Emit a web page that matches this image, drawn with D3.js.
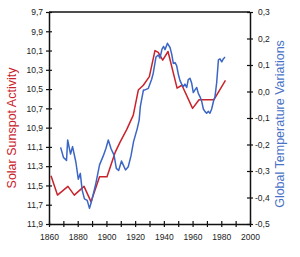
<!DOCTYPE html>
<html>
<head>
<meta charset="utf-8">
<script src="https://cdn.jsdelivr.net/npm/d3@7"></script>
<style>
  body { margin: 0; background: #fff; }
  svg { display: block; font-family: "Liberation Sans", Arial, sans-serif; }
</style>
</head>
<body>
<svg id="chart" width="300" height="257"></svg>
<script>
// solar cycle length (left, inverted) vs global temperature (right)

var sunYears = [1861.4, 1865.9, 1873.2, 1877.6, 1884.4, 1889.3, 1895.2, 1900.4, 1906.0, 1909.5,
    1914.1, 1918.7, 1922.2, 1925.7, 1929.9, 1933.8, 1936.1, 1939.2, 1942.9, 1949.2,
    1952.6, 1960.0, 1964.5, 1974.9, 1982.9];
var sunValues = [11.40, 11.60, 11.51, 11.60, 11.51, 11.67, 11.41, 11.41, 11.16, 11.05,
    10.92, 10.77, 10.51, 10.46, 10.37, 10.10, 10.12, 10.20, 10.11, 10.49,
    10.46, 10.70, 10.61, 10.61, 10.41];

var tempYears = [1868.1, 1870.1, 1872.2, 1873.0, 1875.0, 1876.4, 1878.7, 1880.4, 1881.8, 1883.1,
    1884.7, 1886.6, 1888.2, 1889.3, 1892.4, 1895.2, 1897.8, 1899.7, 1901.3, 1903.3,
    1905.3, 1906.9, 1908.5, 1910.5, 1911.7, 1913.3, 1915.2, 1917.1, 1918.9, 1921.5,
    1922.8, 1923.6, 1924.6, 1925.8, 1926.9, 1929.2, 1931.5, 1932.6, 1934.5, 1936.1,
    1937.3, 1938.7, 1939.8, 1940.8, 1942.5, 1944.3, 1945.5, 1946.6, 1947.8, 1948.9,
    1950.2, 1951.2, 1952.4, 1953.5, 1954.7, 1955.9, 1957.0, 1958.2, 1959.4, 1960.5,
    1961.7, 1962.9, 1964.0, 1965.2, 1966.4, 1967.5, 1968.7, 1969.8, 1971.0, 1972.1,
    1973.3, 1974.6, 1975.6, 1976.8, 1978.0, 1979.1, 1980.3, 1981.4, 1982.6];
var tempValues = [-0.211, -0.249, -0.260, -0.183, -0.236, -0.208, -0.266, -0.331, -0.309, -0.372,
    -0.405, -0.411, -0.441, -0.421, -0.353, -0.277, -0.243, -0.214, -0.183, -0.217,
    -0.240, -0.290, -0.298, -0.262, -0.277, -0.296, -0.284, -0.243, -0.189, -0.139,
    -0.108, -0.057, -0.028, 0.006, 0.006, 0.012, 0.046, 0.069, 0.130, 0.138,
    0.126, 0.160, 0.170, 0.158, 0.182, 0.166, 0.140, 0.106, 0.109, 0.098,
    0.062, 0.042, 0.028, 0.018, 0.028, 0.015, 0.045, 0.050, 0.031, -0.004,
    0.006, 0.015, -0.007, -0.020, -0.038, -0.066, -0.076, -0.082, -0.075, -0.082,
    -0.066, -0.036, -0.020, 0.034, 0.119, 0.123, 0.112, 0.123, 0.130];

var xTicks = [1860, 1870, 1880, 1890, 1900, 1910, 1920, 1930, 1940, 1950, 1960, 1970, 1980, 1990, 2000];
var xLabels = [1860, 1880, 1900, 1920, 1940, 1960, 1980, 2000];
var leftTicks = [9.7, 9.9, 10.1, 10.3, 10.5, 10.7, 10.9, 11.1, 11.3, 11.5, 11.7, 11.9];
var rightTicks = [0.3, 0.2, 0.1, 0.0, -0.1, -0.2, -0.3, -0.4, -0.5];

const drawChart = () => {
    var red = "#c8232b", blue = "#3b66c6";
    var pLeft = 49, pRight = 250, pTop = 12, pBottom = 224;

    var svg = d3.select("#chart");

    var x = d3.scaleLinear().domain([1860, 2000]).range([pLeft, pRight]);
    var yL = d3.scaleLinear().domain([9.7, 11.9]).range([pTop, pBottom]);
    var yR = d3.scaleLinear().domain([0.3, -0.5]).range([pTop, pBottom]);

    var comma = function(v) {
        return (v < -1e-9 ? "-" : "") + Math.abs(v).toFixed(1).replace(".", ",");
    };

    // lines first, axes on top
    var sunLine = d3.line().x(function(d, i) { return x(sunYears[i]); }).y(function(d) { return yL(d); });
    var tempLine = d3.line().x(function(d, i) { return x(tempYears[i]); }).y(function(d) { return yR(d); });

    svg.append("path").datum(sunValues)
        .attr("d", sunLine)
        .attr("fill", "none").attr("stroke", red).attr("stroke-width", 1.5)
        .attr("stroke-linejoin", "round");

    svg.append("path").datum(tempValues)
        .attr("d", tempLine)
        .attr("fill", "none").attr("stroke", blue).attr("stroke-width", 1.5)
        .attr("stroke-linejoin", "round");

    // frame top
    svg.append("line")
        .attr("x1", pLeft).attr("x2", pRight).attr("y1", pTop).attr("y2", pTop)
        .attr("stroke", "#111").attr("stroke-width", 1.5);

    var gl = svg.append("g").attr("transform", "translate(" + pLeft + ",0)")
        .call(d3.axisLeft(yL).tickValues(leftTicks).tickFormat(comma).tickSize(3).tickSizeOuter(0));
    var gr = svg.append("g").attr("transform", "translate(" + pRight + ",0)")
        .call(d3.axisRight(yR).tickValues(rightTicks).tickFormat(comma).tickSize(3).tickSizeOuter(0));
    var gx = svg.append("g").attr("transform", "translate(0," + pBottom + ")")
        .call(d3.axisBottom(x).tickValues(xTicks)
            .tickFormat(function(d) { return xLabels.indexOf(d) >= 0 ? d : ""; })
            .tickSize(3).tickSizeOuter(0));

    [gl, gr, gx].forEach(function(g) {
        g.select(".domain").attr("stroke", "#111").attr("stroke-width", 1.5);
        g.selectAll(".tick line").attr("stroke", "#111").attr("stroke-width", 1.2);
        g.selectAll(".tick text").attr("fill", "#222").style("font-size", "8.5px");
    });
    gl.selectAll(".tick line").attr("x1", 3).attr("x2", -3);
    gl.selectAll(".tick text").attr("x", -6);
    gr.selectAll(".tick line").attr("x1", -3).attr("x2", 3);
    gr.selectAll(".tick text").attr("x", function(d) { return d < -1e-9 ? 5 : 8; });
    gx.selectAll(".tick line").attr("y1", -3).attr("y2", 3);
    gx.selectAll(".tick text").attr("y", 10);

    svg.append("text")
        .attr("transform", "translate(16,128) rotate(-90)")
        .attr("text-anchor", "middle")
        .attr("fill", red)
        .style("font-size", "12.5px")
        .text("Solar Sunspot Activity");

    svg.append("text")
        .attr("transform", "translate(284,124) rotate(-90)")
        .attr("text-anchor", "middle")
        .attr("fill", "#4a72c6")
        .style("font-size", "12.5px")
        .text("Global Temperature Variations");
};

drawChart();
</script>
</body>
</html>
